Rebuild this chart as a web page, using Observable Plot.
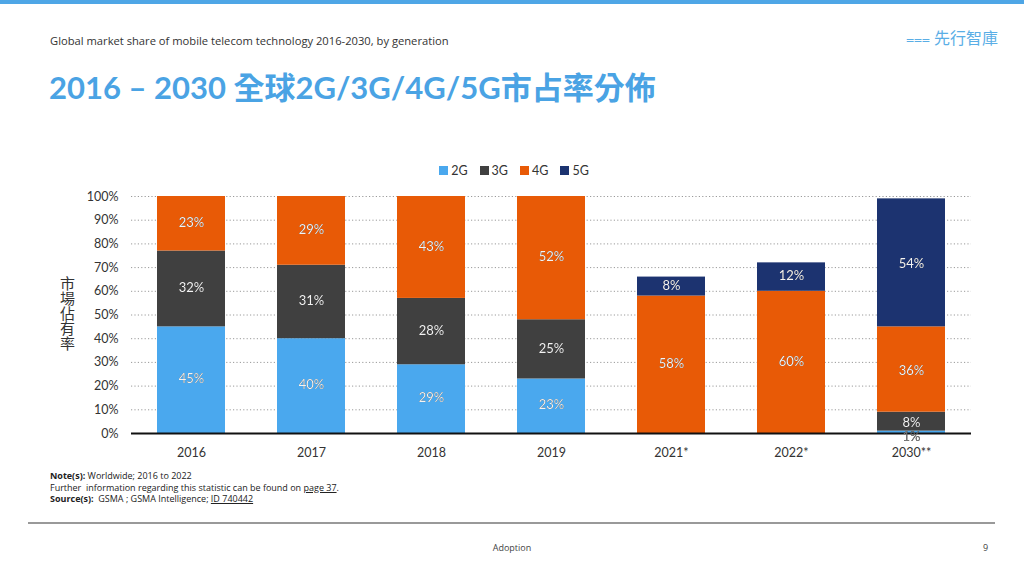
<!DOCTYPE html>
<html>
<head>
<meta charset="utf-8">
<script src="https://cdn.jsdelivr.net/npm/d3@7"></script>
<script src="https://cdn.jsdelivr.net/npm/@observablehq/plot@0.6"></script>
<style>
  html, body { margin: 0; padding: 0; background: #fff; }
  body { width: 1024px; height: 576px; position: relative; overflow: hidden;
         font-family: Lato, "Noto Sans CJK TC", sans-serif; color: #333; }
  .abs { position: absolute; }
  #topbar { left: 0; top: 0; width: 1024px; height: 4px; background: #4ea6e6; }
  #subtitle { left: 50px; top: 33px; font-size: 11.2px; color: #333; font-family: "Open Sans", sans-serif; }
  #title { left: 49px; top: 63px; font-size: 31px; font-weight: bold; color: #4aa3e4;
           font-family: Lato, "Noto Sans CJK TC", sans-serif; letter-spacing: 0px; white-space: nowrap; }
  #logo { left: 906px; top: 25px; font-size: 16px; color: #5aaee6; font-family: "Noto Sans CJK TC", sans-serif; white-space: nowrap; }
  #legend { left: 0; width: 1028px; top: 163px; display: flex; justify-content: center; gap: 12px; font-size: 12.5px; color: #333; }
  #legend span.sw { display: inline-block; width: 9px; height: 9px; margin-right: 3px; vertical-align: 0px; }
  #ylabel { left: 58px; top: 276px; writing-mode: vertical-rl; text-orientation: upright; font-size: 15px; line-height: 18px;
            letter-spacing: 0px; color: #333; font-family: "Noto Sans CJK TC", sans-serif; }
  #chart { left: 0; top: 180px; }
  #notes { left: 50px; top: 470px; font-size: 9px; line-height: 11.5px; color: #222; font-family: "Open Sans", sans-serif; }
  #notes b { font-weight: bold; }
  #notes u { text-decoration: underline; }
  #footline { left: 28px; top: 522px; width: 967px; height: 1.5px; background: #999; }
  #footer { left: 0; width: 1024px; top: 541px; text-align: center; font-size: 9px; color: #444; font-family: "Open Sans", sans-serif; }
  #pagenum { left: 983px; top: 541px; font-size: 9px; color: #444; font-family: "Open Sans", sans-serif; }
</style>
</head>
<body>
<div id="topbar" class="abs"></div>
<div id="subtitle" class="abs">Global market share of mobile telecom technology 2016-2030, by generation</div>
<div id="logo" class="abs"><span style="font-size:14px;letter-spacing:-2px;margin-right:6px">⩶</span>先行智庫</div>
<div id="title" class="abs">2016 – 2030 全球2G/3G/4G/5G市占率分佈</div>
<div id="legend" class="abs"></div>
<div id="ylabel" class="abs">市場佔有率</div>
<div id="chart" class="abs"></div>
<div id="notes" class="abs">
  <div><b>Note(s):</b> Worldwide; 2016 to 2022</div>
  <div>Further&nbsp; information regarding this statistic can be found on <u>page 37</u>.</div>
  <div><b>Source(s):</b>&nbsp; GSMA ; GSMA Intelligence; <u>ID 740442</u></div>
</div>
<div id="footline" class="abs"></div>
<div id="footer" class="abs">Adoption</div>
<div id="pagenum" class="abs">9</div>
<script>
const years = ["2016", "2017", "2018", "2019", "2021*", "2022*", "2030**"];
const generations = ["2G", "3G", "4G", "5G"];
const share2G = [45, 40, 29, 23, 0, 0, 1];
const share3G = [32, 31, 28, 25, 0, 0, 8];
const share4G = [23, 29, 43, 52, 58, 60, 36];
const share5G = [0, 0, 0, 0, 8, 12, 54];
const colors = ["#4aa8ee", "#404040", "#e85a06", "#1c3370"];
const yTicks = [0, 10, 20, 30, 40, 50, 60, 70, 80, 90, 100];

const series = [share2G, share3G, share4G, share5G];
const data = [];
years.forEach((yr, i) => {
  generations.forEach((g, j) => {
    const v = series[j][i];
    if (v > 0) data.push({ year: yr, gen: g, value: v });
  });
});

// legend
const legend = document.getElementById("legend");
generations.forEach((g, j) => {
  const it = document.createElement("div");
  it.innerHTML = `<span class="sw" style="background:${colors[j]}"></span>${g}`;
  legend.appendChild(it);
});

const labelOpts = (extra) => Plot.stackY({ x: "year", y: "value", z: "gen", text: d => d.value + "%",
  filter: extra.filter, fill: extra.fill, fontSize: 13, dy: extra.dy });

const chart = Plot.plot({
  width: 1024,
  height: 290,
  marginTop: 16,
  marginBottom: 37,
  marginLeft: 131,
  marginRight: 53,
  style: { fontFamily: "Lato, sans-serif", fontSize: "12.5px", color: "#333", background: "transparent" },
  x: { domain: years, paddingInner: 0.433, paddingOuter: 0.2165, label: null, tickSize: 0, tickPadding: 15 },
  y: { domain: [0, 100], ticks: yTicks, tickFormat: d => d + "%", label: null, tickSize: 0, tickPadding: 13 },
  color: { domain: generations, range: colors },
  marks: [
    Plot.gridY(yTicks.filter(d => d > 0), { stroke: "#9a9a9a", strokeOpacity: 1, strokeDasharray: "1.2,2.2", strokeWidth: 1 }),
    Plot.barY(data, { x: "year", y: "value", fill: "gen" }),
    Plot.ruleY([0], { stroke: "#111", strokeWidth: 2 }),
    Plot.text(data, labelOpts({ filter: d => d.value >= 5, dy: -1, fill: "#f4f4f4" })),
    Plot.text(data, labelOpts({ filter: d => d.value < 5, dy: 5, fill: "#777" }))
  ]
});
chart.querySelectorAll("g[aria-label='text'] text").forEach(t => {
  if (t.getAttribute("fill") !== "#777") t.style.filter = "drop-shadow(0.8px 0.8px 0.6px rgba(0,0,0,0.75))";
});
document.getElementById("chart").appendChild(chart);
</script>
</body>
</html>
